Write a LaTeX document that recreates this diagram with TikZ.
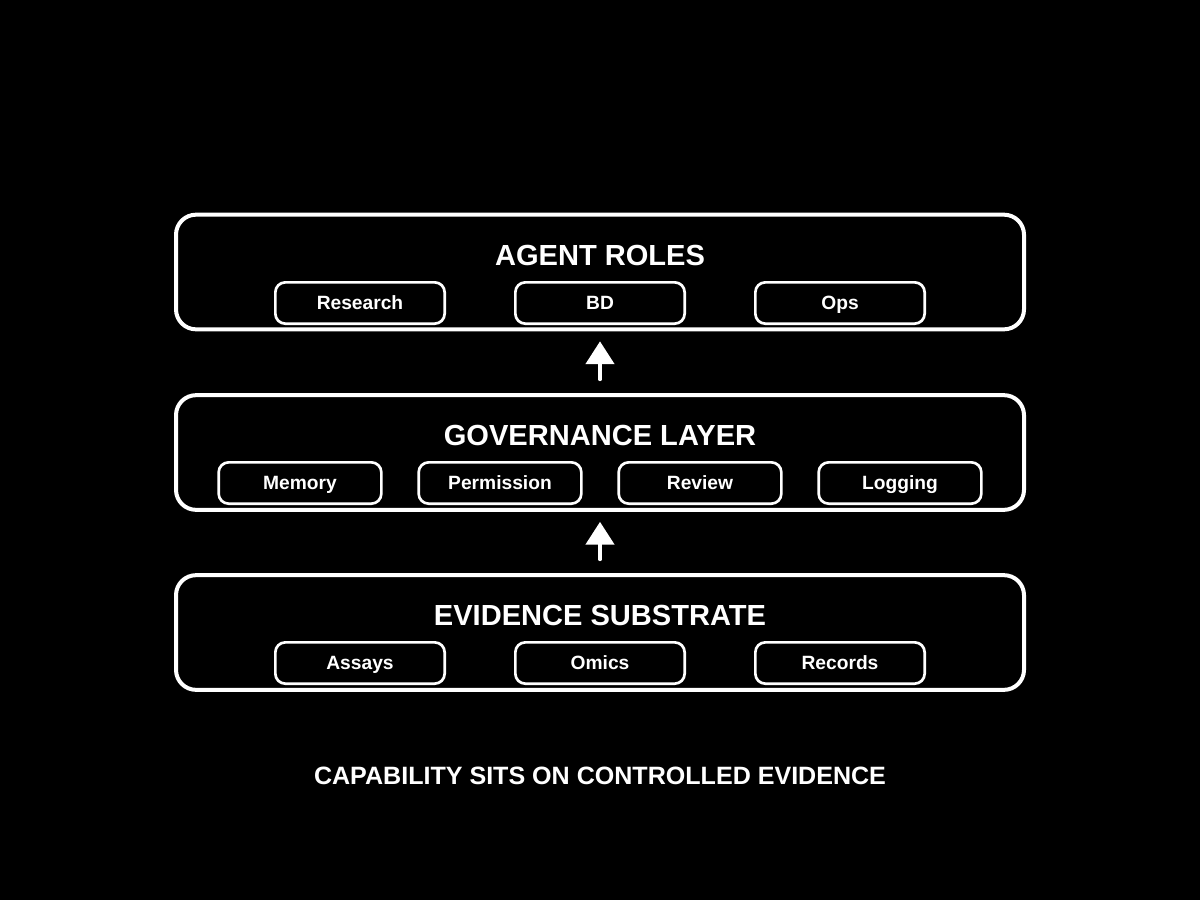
\documentclass[tikz,border=0pt]{standalone}
\usepackage{fontspec}
\setmainfont{Liberation Sans}
\usetikzlibrary{arrows.meta}
\begin{document}
\begin{tikzpicture}[x=0.75pt,y=-0.75pt,
  layerbox/.style={draw=white,line width=3pt,rounded corners=15pt,minimum width=636pt,minimum height=86pt,inner sep=0pt},
  subbox/.style={draw=white,line width=2pt,rounded corners=7.5pt,minimum height=31pt,inner sep=0pt,text=white,text height=10.3pt,text depth=0pt,font=\fontsize{14.4}{16}\selectfont\bfseries},
  wide/.style={minimum width=127pt},
  narrow/.style={minimum width=122pt},
  title/.style={text=white,font=\fontsize{21.8}{24}\selectfont\bfseries,inner sep=0pt,text height=15.6pt,text depth=0pt},
  uparrow/.style={draw=white,line width=3pt,line cap=round,-{Triangle[width=21pt,length=17pt]},shorten >=7.5pt,shorten <=10.5pt}]
\fill[black] (0,0) rectangle (1200,900);
\useasboundingbox (0,0) rectangle (1200,900);
% layers
\node[layerbox] (agent) at (600,272) {};
\node[layerbox] (gov) at (600,452.5) {};
\node[layerbox] (evid) at (600,632.5) {};
% titles
\node[title] (agentT) at (600,255) {AGENT ROLES};
\node[title] (govT) at (600,435) {GOVERNANCE LAYER};
\node[title] (evidT) at (600,615) {EVIDENCE SUBSTRATE};
% agent roles
\node[subbox,wide] (research) at (360,303) {Research};
\node[subbox,wide] (bd) at (600,303) {BD};
\node[subbox,wide] (ops) at (840,303) {Ops};
% governance
\node[subbox,narrow] (memory) at (300,483) {Memory};
\node[subbox,narrow] (permission) at (500,483) {Permission};
\node[subbox,narrow] (review) at (700,483) {Review};
\node[subbox,narrow] (logging) at (900,483) {Logging};
% evidence
\node[subbox,wide] (assays) at (360,663) {Assays};
\node[subbox,wide] (omics) at (600,663) {Omics};
\node[subbox,wide] (records) at (840,663) {Records};
% arrows
\draw[uparrow] (gov.north) -- (agent.south);
\draw[uparrow] (evid.north) -- (gov.south);
% caption
\node[text=white,font=\fontsize{18.8}{22}\selectfont\bfseries,inner sep=0pt,text height=13.5pt,text depth=0pt] (caption) at (600,775) {CAPABILITY SITS ON CONTROLLED EVIDENCE};
\end{tikzpicture}
\end{document}
